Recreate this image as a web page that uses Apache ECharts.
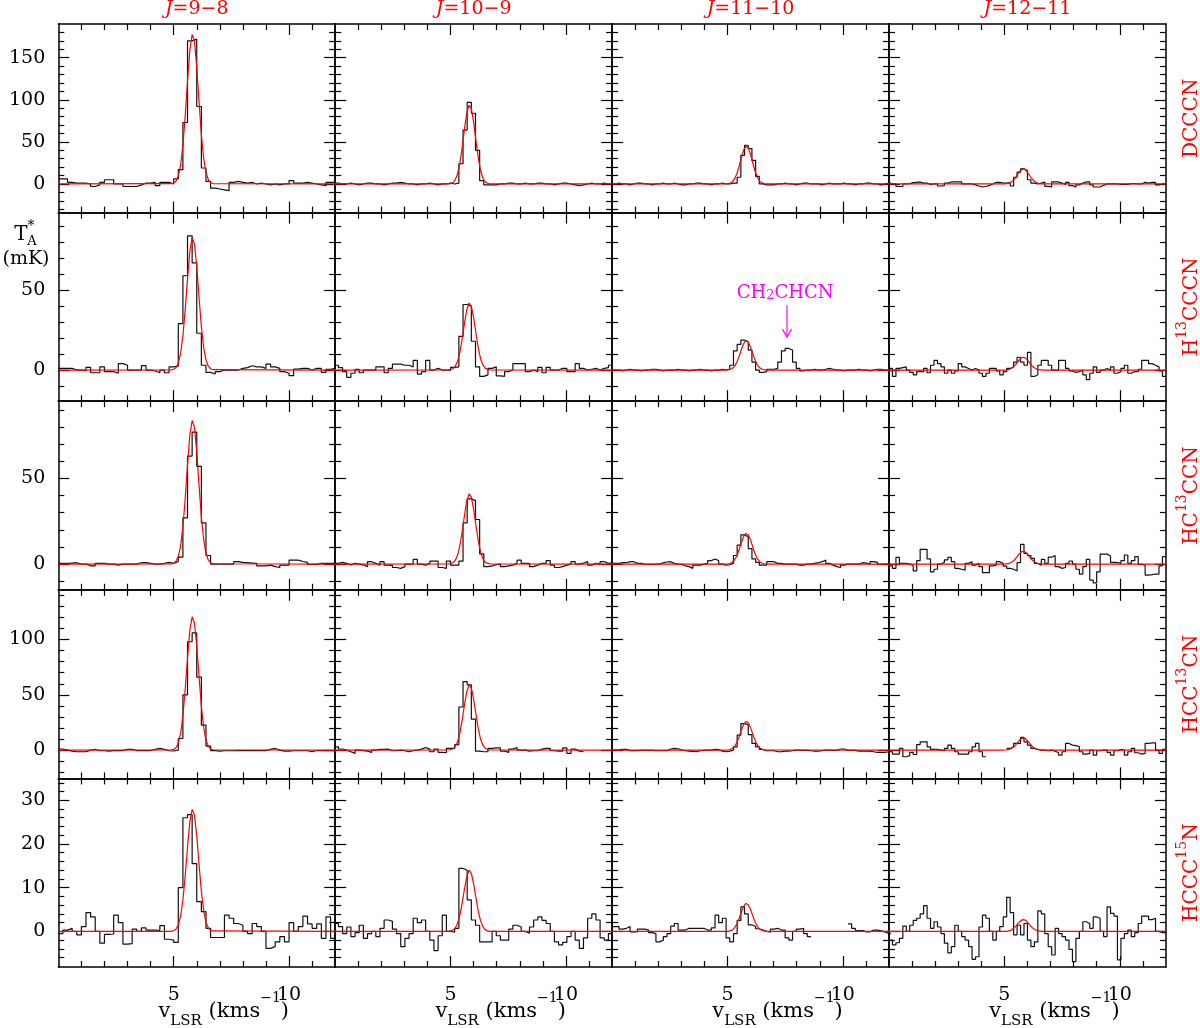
<!DOCTYPE html>
<html><head><meta charset="utf-8">
<script src="https://cdn.jsdelivr.net/npm/echarts@6.0.0/dist/echarts.min.js"></script>
<style>html,body{margin:0;padding:0;background:#fff}#c{width:1200px;height:1028px}</style>
</head><body><div id="c"></div>
<script>
// ---------------- DATA ----------------
const transitions = ['9\u22128', '10\u22129', '11\u221210', '12\u221211'];
const molecules = ['DCCCN', 'H{sup|13}CCCN', 'HC{sup|13}CCN', 'HCC{sup|13}CN', 'HCCC{sup|15}N'];
// channel grid of each column (km/s): first channel left edge and channel width
const chanStart = [0, -0.04, -0.02, 0];
const chanWidth = [0.2, 0.18, 0.16, 0.15];
// axes
const xMajor = [5, 10];
const xMinor = [1, 2, 3, 4, 6, 7, 8, 9, 11];
const yMin = [-34, -19.5, -15, -25.6, -8.15];
const yMax = [190, 98.5, 95, 145, 35];
const yMajor = [[0, 50, 100, 150], [0, 50], [0, 50], [0, 50, 100], [0, 10, 20, 30]];
const yMinor = [
  [-30, -20, -10, 10, 20, 30, 40, 60, 70, 80, 90, 110, 120, 130, 140, 160, 170, 180],
  [-10, 10, 20, 30, 40, 60, 70, 80, 90],
  [-10, 10, 20, 30, 40, 60, 70, 80, 90],
  [-20, -10, 10, 20, 30, 40, 60, 70, 80, 90, 110, 120, 130, 140],
  [-6, -4, -2, 2, 4, 6, 8, 12, 14, 16, 18, 22, 24, 26, 28, 32, 34]
];

// observed spectra (mK), one value per channel
const s_DCCCN_98 = [6,6,2,1,1,1,0,-3,-1,2, 5,5,0,0,-3,-3,-3,-1,1,1, 2,-2,2,2,0,6,17,73,170,172, 92,19,3,-5,-6,-7,-8,2,3,2, 1,2,0,1,0,-1,0,-1,0,0, 4,1,1,2,1,0,-1,-2,2,2];
const s_DCCCN_109 = [1,0,0,1,0,-1,0,1,1,0, 0,-1,0,1,1,2,1,0,0,-1, 0,0,1,0,-1,0,0,1,0,1, 24,64,97,84,40,4, -1,-1,-1,0,0,1,1,0,0,1, 0,0,1,1,0,0,-1,0,1,1, 0,-1,-2,-1,0,1,0,0,1,0, 1];
const s_DCCCN_1110 = [0,1,0,0,-1,0,1,1,0,0, -1,0,0,1,0,0,1,0,-1,-1, 0,0,1,1,0,0,-1,0,0,1, 0,0,1, 1,8,34,46,42,28,9,0, -1,-1,-1,0,0,1,0,0,-1,0, 1,1,0,0,0,-1,0,1,0,0, 0,1,0,0,-1,0,0,1,1,0, 0,-1,0,1,1];
const s_DCCCN_1211 = [0,0,-3,-3,0,0.5,1.6,2,2.4,1, 1,-0.5,0,0,-2.4,-2,1,2.4,2.4,2.4, 2.4,0,0,0,-1,-2.4,-3.6,-3,-1.6,0, 2,2,1,1,1.6,-2.4,8,14,18,16, 5,1,0,1,2.4,-2.8,-3.6,2.4,2.4,1, -0.4,2,-2,-3.6,-1,1,2.4,2.4,-1,-3.6, -3.6,-1.6,0,0,0,0,-0.4,-0.4,-0.4,0.5, 0.5,0,0,2,1,2,2,-1,0,0];

const s_H13CCCN_98 = [1,1,1,0,0,-0.4,1.7,-1.7,-1.7,2, -1,-1,-2,4,3,0,0,0,2.7,0, -0.6,-1.7,0,-1.7,2,2.5, 29,59,84,67,23,3, -1.5,-2.5,-1,0,0,0,0,1,1.5,2.7, 2,2,1,3.7,2,1,-1,-2,-3.5,0.6, 1,1,0,1,1,-1.5,0.4,1];
const s_H13CCCN_109 = [3,1.5,-1,-4.6,-2,0.4,-1.7,0,0,0, 2,2,-1.7,1,3.7,3.7,3,3,2,6, -2.5,-1,6,0,1,0,0,0,1.7,2, 21,41,40,18, 2,-4,-3,1,2,-3.7,-4,-1,0,4, 4,4,-1,0,-1,1.7,-1.7,1.7,0,0, 1,1,-1,-1,4,1,0,0.5,1,0, 1,1.5,3];
const s_H13CCCN_1110 = [0,0,-0.5,0,0.5,0,0,-0.5,0,0, 0.5,0.5,0,-0.5,0,0,0,0.5,0,0, -0.5,0,0,0.5,0,0,-0.5,0,0,0.5, 0,0.5, 3,12,16,18.7,17.7,12.5,5,0,-1.5,-1, 0.5,0.5,1,5,12,13.5,12.5,5,1,-0.5, 0,0,0.5,0,0,0.5,1,0.5,0,0, -0.5,0,0,0,0.5,0,0,-0.5,0,0.5, 0.5,0,0,-0.5];
const s_H13CCCN_1211 = [1,-4,1,1.5,2,0,-1.5,-3,-1,-1, 1,-1.7,3,6,4,2,-2,0,-2,-0.5, 4,2,1,0,1,0,-2,-4,-2,1, 1,-0.5,-3,-1,1,2,5,8,5,3, 11,-4,-3,3,6,6,3,0,0,6, 6,1,-0.5,-1.5,-1,0,-3,-6,-2,2, -1.5,0,1,0,2,-2,-1,1,3,-2, -1,-1,0.5,6,6,4,3,2,-0.5,-4];

const s_HC13CCN_98 = [0.4,0.4,0.6,0.8,0,0,-1,-1,0.4,0.4, 0,0,-0.6,0,0,0,0,0.8,0.8,0.4, 0,0,0.4,1,0.4,1.5,4,27,63,77, 57,24,5,0,0,0,0,0,1.4,1, 0.8,0.6,0.4,-1,-1,-0.6,-1.5,-2,-0.6,-0.6, 2.3,2.3,1.5,1,-0.2,-0.2,0.4,0.4,0.4,0.4];
const s_HC13CCN_109 = [0.4,1,0.4,-0.5,0.4,0,-0.5,-1.5,1.4,0.4, -0.6,1.4,-0.6,-0.8,-2,-2.5,-1.5,0,0,2.7, 0,-0.6,0.4,1.7,1.7,-2,-2.5,1.7,-0.6,-0.6, 1.7,24,38,37,26,6,-1.5, -1,-0.4,0,-1.5,-1,-0.6,0.4,2.3,0.4,0.4, -1.5,-0.6,0.4,0.4,2,-0.6,-2,-1.5,-0.6,0, 1.4,0,0.6,1.4,-0.6,0.4,-0.2,1.4,0.4,0.8];
const s_HC13CCN_1110 = [0.4,0.4,0.8,0.8,1.4,1.4,0.4,0.4,-0.2,-0.2, -0.2,0,0,0.8,1.2,1.4,0.4,0,-0.2,-1, -1.5,-2.5,-0.6,-0.6,0,0.4,2,3,2,0, -0.6,-0.4,0.4,5,11,17,16,9,3,1, -0.6,-0.6,1.4,1.4,0.4,0.4,0,0,0,0, -0.6,-0.6,0,0,0.4,0.8,1.4,2.3,0.4,-0.6, -1.5,-2,-0.6,0,0,0,0,0.8,0.6,0, 1.4,1,-0.2,0,0,0];
const s_HC13CCN_1211 = [-1,-2.5,3.9,0.4,0.4,0,-1,-4,2,8.6, 8.6,3,-4.5,-3,0,1,2.5,3.9,1.4,-2.5, -3,-3.5,0.4,1.4,-0.6,0.4,-1.5,-5,-5,-1, -0.6,1.4,0.4,-1.2,-2.5,-3,-4,0.8,11.5,6.2, 5,3.3,0.4,-0.6,2.7,0.4,4,5,-1.5,-2.5, -2,0.4,1.8,0,-3,-5.8,-1.5,2.7,-9.3,-11, -4.5,5.8,5.8,4.7,1,0.8,0.4,2,5.3,0.4, 2,4.3,-0.2,-0.6,-6.4,-6.2,-5.8,-5.8,-1,4.3];

const s_HCC13CN_98 = [1,0,-1,-1.5,-1.5,-1.5,0,0.8,-0.6,-0.6, -1,-0.4,-0.4,-0.4,0.6,0.6,-0.4,-0.4,-0.4,-0.4, 0.6,1.5,0.6,-0.6,-0.8,0, 10.5,50,98,106,66,22.6,3.6, -0.4,-1,-0.6,-0.6,-0.6,-0.4,-0.4,-0.4,-0.4,-0.4, -0.4,-0.4,0.6,1.5,0,-1,-1,-0.6,-0.6,-0.6, -0.6,-1.5,-0.4,-0.4,-0.4,-0.4,-0.4];
const s_HCC13CN_109 = [3,1,0,-1.5,-3,0,-0.5,-1,-2,0, 0.6,0.6,0.9,-0.6,-0.6,0,-0.6,-1.5,-0.6,0, 0.9,2.4,0.9,-1.5,0.9,-2,-2.4,1.5,1.5, 5,39,62,59,28,-1, -1.5,-1.5,1.5,2,2,-0.9,-2,0.9,2.4,0, 0,-0.9,-0.6,-0.6,0.9,1.5,1.5,-0.6,-0.9,-0.9, 2,-3,0.9,-0.9,-1.5, null,null,null,null,null,null,null];
const s_HCC13CN_1110 = [0,0,0.6,0.6,-0.4,-0.4,-0.4,-0.2,-0.2,-0.2, -0.2,-0.6,-0.6,-0.6,-0.6,1,1.5,1.2,0,-0.6, -0.9,-1.2,-1.5,-0.6,-0.2,0,0,0.6,0.4,-0.9, -1.5,-0.9,0,3,13.5,24,23,14,6,3, 0.6,-0.6,-0.6,-0.6,-1.5,-1.5,-0.9,-0.9,-0.6,0, 0,-0.2,-0.2,-0.6,-0.9,-0.9,-0.6,0,0,-0.2, -0.2,1,1,-0.2,-0.2,-0.2,-0.9,-0.9,-0.9,-0.9, -1.5,-2,-2,-2,-1.5,0];
const s_HCC13CN_1211 = [-1.5,-3.6,-3.6,1.5,-6,-5,-2,-4,5,7.5, 7.5,3,0.6,0.6,0,-0.6,1.5,4.5,1.5,-1.5, -3.6,-3.6,-3.6,-1.5,3,6,-1.5,-6, null,null,null,null,null,null, 1.5,3,6,6,11.5,7.5,4.5,1.5,0.6,0, 0,-0.6,0,-1,-2.4,-4.5,-1.5,6,4.5,4, 3,-1.5,-3.6,-3,0,-4.5,-0.6,0,0,-2, -4.5,-0.6,0.6,0,-4.5,-1.5,1.5,-2.4,-3.6,-3, 6,6.6,6.6,0,-3,0.6];

const s_HCCC15N_98 = [-0.5,0.3,0.7,0,-0.8,1.1,4.3,3.3,0,-2.7, -0.7,-0.6,3.7,2,-2.9,-2.8,0.5,0,0.8,0.3, 0.3,0.2,1.3,-1.8,-2,-2.5,10,26,26.7,15.5, 6.8,4.5,0.7,-1.4,-1.4,-1.4,3.7,3,1.8,1.4, 0,-0.5,1.8,1.1,0,-3.9,-3.5,-2.4,-1.2,-2.4, 2,0,1.1,3.5,1.7,0.7,1.7,-1.6,3.3,-1.6];
const s_HCCC15N_109 = [1.8,1.1,-0.5,1,-1.2,-0.3,1.4,-1.6,-0.5,0, -1.2,0.7,2.6,2.3,0.5,-0.5,-3.5,-1.6,-0.5,3, 2,2.6,0,-2,-4.4,-1,3.7,0,-0.2,0.7, 14.4,14,7.2,2.6,1.4,-2.4,-2.4,-2.4,0,-1, -2,-2,0.5,1.4,1,0,-0.4,1,2.6,3.3, 2.5,1.8,0,-2.4,-3.1,-2.5,-1.2,0,-2,-3.9, -1.5,3,4,2.6,-1.5,-2,-0.5];
const s_HCCC15N_1110 = [1.1,1.1,0.5,0.7,1.1,-0.1,-0.1,0.5,0.5,0.3, -0.3,-0.5,-2.4,-2,-1.2,-0.5,1.2,1.8,0.3,0.3, 0.7,0.7,0.7,0.7,0.7,0.3,0.3,0.8,3.7,2, 3,-1.5,-2.4,-0.5,2.5,5.6,4,1.5,1.1,0.6, 0.3,0,-0.2,0.5,0.7,0.3,0.3,-1.5,-2,0, 0.5,0.7,-0.5,-1.2,null,null,null,null,null,null, null,null,null,null,1.7,0.7,0.2,0.2,-0.1,-0.1, 0.3,0.3,0.1,-0.1,-0.5,-0.5];
const s_HCCC15N_1211 = [-2,-3.1,-2.6,-1.6,1.2,0,1.4,2.5,3,4, 5.9,3,0.7,2.2,1,-0.5,-2.7,-4.9,-3.5,1.4, 0,-1.2,-2,-3.5,-6.4,-5.8,1,3.7,3,0, -2,0,1.1,3.3,7.8,4.3,-0.8,1.4,-0.8,1.8, -2,-3.5,-2.4,4.7,4,-0.5,-3.5,-5.4,0.7,-0.5, -1.2,-2,-4.1,-6.9,-1.6,0,2.2,1.8,0.7,3.3, 3,0,-1.2,5.6,4.1,3.5,-6.5,-1.6,-0.5,0.3, -1.2,-0.3,1.8,3.5,3.5,2.7,3,0,-0.3,-0.3];

const fitX = [0, 4.9,5.0,5.1,5.2,5.3,5.4,5.5,5.6,5.7,5.8,5.9,6.0,6.1,6.2,6.3,6.4,6.5,6.6,6.7, 12];
const fit_DCCCN_98 = [0, 0.3,1.0,3.3,9.3,22.3,45.7,81.0,122.6,159.3,177.5,169.5,138.7,97.4,58.6,30.3,13.4,5.1,1.7,0.5, 0];
const fit_DCCCN_109 = [0, 0.1,0.5,1.7,4.9,11.8,24.2,42.8,64.8,84.1,93.7,89.5,73.2,51.4,30.9,16.0,7.1,2.7,0.9,0.2, 0];
const fit_DCCCN_1110 = [0, 0.1,0.3,0.8,2.3,5.6,11.6,20.5,31.0,40.3,44.9,42.8,35.1,24.6,14.8,7.7,3.4,1.3,0.4,0.1, 0];
const fit_DCCCN_1211 = [0, 0,0.1,0.3,0.9,2.3,4.6,8.2,12.4,16.1,17.9,17.1,14.0,9.8,5.9,3.1,1.4,0.5,0.2,0, 0];
const fit_H13CCCN_98 = [0, 0.1,0.5,1.5,4.3,10.4,21.3,37.8,57.2,74.3,82.8,79.0,64.7,45.4,27.3,14.1,6.2,2.4,0.8,0.2, 0];
const fit_H13CCCN_109 = [0, 0.1,0.2,0.8,2.2,5.3,10.8,19.1,28.9,37.6,41.9,40.0,32.7,23.0,13.8,7.1,3.2,1.2,0.4,0.1, 0];
const fit_H13CCCN_1110 = [0, 0,0.1,0.3,1.0,2.3,4.8,8.4,12.7,16.6,18.4,17.6,14.4,10.1,6.1,3.1,1.4,0.5,0.2,0, 0];
const fit_H13CCCN_1211 = [0, 0,0,0.1,0.4,1.0,2.1,3.6,5.5,7.2,8.0,7.6,6.2,4.4,2.6,1.4,0.6,0.2,0.1,0, 0];
const fit_HC13CCN_98 = [0, 0.1,0.5,1.6,4.4,10.5,21.6,38.2,57.9,75.2,83.7,80.0,65.4,45.9,27.6,14.3,6.3,2.4,0.8,0.2, 0];
const fit_HC13CCN_109 = [0, 0.1,0.2,0.8,2.1,5.1,10.5,18.7,28.2,36.7,40.9,39.0,31.9,22.4,13.5,7.0,3.1,1.2,0.4,0.1, 0];
const fit_HC13CCN_1110 = [0, 0,0.1,0.3,0.9,2.3,4.6,8.2,12.4,16.1,17.9,17.1,14.0,9.8,5.9,3.1,1.4,0.5,0.2,0, 0];
const fit_HC13CCN_1211 = [0, 0,0,0.1,0.4,0.9,1.9,3.4,5.2,6.7,7.5,7.1,5.8,4.1,2.5,1.3,0.6,0.2,0.1,0, 0];
const fit_HCC13CN_98 = [0, 0.2,0.7,2.2,6.3,15.1,31.1,55.1,83.4,108.3,120.6,115.2,94.3,66.2,39.8,20.6,9.1,3.4,1.1,0.3, 0];
const fit_HCC13CN_109 = [0, 0.1,0.3,1.1,3.1,7.4,15.2,26.8,40.7,52.8,58.8,56.2,46.0,32.3,19.4,10.0,4.4,1.7,0.5,0.2, 0];
const fit_HCC13CN_1110 = [0, 0,0.1,0.5,1.4,3.3,6.7,11.8,17.9,23.3,25.9,24.8,20.3,14.2,8.6,4.4,2.0,0.7,0.2,0.1, 0];
const fit_HCC13CN_1211 = [0, 0,0.1,0.2,0.6,1.4,2.8,5.0,7.6,9.8,11.0,10.5,8.6,6.0,3.6,1.9,0.8,0.3,0.1,0, 0];
const fit_HCCC15N_98 = [0, 0,0.2,0.5,1.5,3.5,7.2,12.7,19.3,25.1,27.9,26.7,21.8,15.3,9.2,4.8,2.1,0.8,0.3,0.1, 0];
const fit_HCCC15N_109 = [0, 0,0.1,0.3,0.7,1.8,3.6,6.4,9.6,12.5,14.0,13.3,10.9,7.7,4.6,2.4,1.1,0.4,0.1,0, 0];
const fit_HCCC15N_1110 = [0, 0,0,0.1,0.3,0.8,1.6,2.9,4.4,5.7,6.4,6.1,5.0,3.5,2.1,1.1,0.5,0.2,0.1,0, 0];
const fit_HCCC15N_1211 = [0, 0,0,0,0.1,0.3,0.7,1.2,1.9,2.4,2.7,2.6,2.1,1.5,0.9,0.5,0.2,0.1,0,0, 0];

// annotation in H13CCCN J=11-10 panel
const annLabel = 'CH{s|2}CHCN';
const annText = [7.5, 48];          // km/s, mK
const annArrow = [7.58, 40.6, 20.6]; // km/s, from mK, to mK

// x-axis title pieces: text, font size, vertical role
const xTitleParts = [['v', 'main'], ['LSR', 'sub'], [' (kms', 'main'], ['\u22121', 'sup'], [')', 'main']];

// ---------------- LAYOUT ----------------
const spectra = [
  [s_DCCCN_98, s_DCCCN_109, s_DCCCN_1110, s_DCCCN_1211],
  [s_H13CCCN_98, s_H13CCCN_109, s_H13CCCN_1110, s_H13CCCN_1211],
  [s_HC13CCN_98, s_HC13CCN_109, s_HC13CCN_1110, s_HC13CCN_1211],
  [s_HCC13CN_98, s_HCC13CN_109, s_HCC13CN_1110, s_HCC13CN_1211],
  [s_HCCC15N_98, s_HCCC15N_109, s_HCCC15N_1110, s_HCCC15N_1211]
];
const fits = [
  [fit_DCCCN_98, fit_DCCCN_109, fit_DCCCN_1110, fit_DCCCN_1211],
  [fit_H13CCCN_98, fit_H13CCCN_109, fit_H13CCCN_1110, fit_H13CCCN_1211],
  [fit_HC13CCN_98, fit_HC13CCN_109, fit_HC13CCN_1110, fit_HC13CCN_1211],
  [fit_HCC13CN_98, fit_HCC13CN_109, fit_HCC13CN_1110, fit_HCC13CN_1211],
  [fit_HCCC15N_98, fit_HCCC15N_109, fit_HCCC15N_1110, fit_HCCC15N_1211]
];
const colLeft = [58.3, 335.2, 612.1, 889.0];
const colW = 276.9;
const rowTop = [24, 212.6, 401.2, 589.8, 778.4];
const rowH = 188.6;
const FONT = 'DejaVu Serif';
const RED = '#ff0000';
const MAG = '#ff00ff';
const titleStyle = { main: { size: 21, y: 1012 }, sub: { size: 15, y: 1021.5 }, sup: { size: 14, y: 998 } };

const mctx = document.createElement('canvas').getContext('2d');
function textWidth(txt, size) { mctx.font = size + 'px "' + FONT + '"'; return mctx.measureText(txt).width; }

function stepData(vals, x0, dv) {
  const d = vals.map((v, k) => [x0 + k * dv, v == null ? null : v]);
  d.push([x0 + vals.length * dv, vals[vals.length - 1]]);
  return d;
}

const grids = [], xAxes = [], yAxes = [], series = [];
for (let r = 0; r < 5; r++) {
  for (let c = 0; c < 4; c++) {
    const gi = r * 4 + c;
    grids.push({ left: colLeft[c], top: rowTop[r], width: colW, height: rowH, show: false, containLabel: false, outerBoundsMode: 'none' });
    const ax = (pos, ticks, len, showLine, labels, margin) => ({
      type: 'value', gridIndex: gi, position: pos,
      axisLine: { show: showLine, onZero: false, lineStyle: { color: '#000', width: 1.5 } },
      axisTick: { show: true, inside: true, length: len, customValues: ticks, lineStyle: { color: '#000', width: 1.2 } },
      axisLabel: labels ? { show: true, customValues: labels, margin: margin, color: '#000', fontFamily: FONT, fontSize: 19 } : { show: false },
      splitLine: { show: false }, minorTick: { show: false }, minorSplitLine: { show: false }
    });
    for (const pos of ['bottom', 'top']) {
      xAxes.push(Object.assign(ax(pos, xMajor, 11, true, (pos === 'bottom' && r === 4) ? xMajor : null, 19), { min: 0, max: 12 }));
      xAxes.push(Object.assign(ax(pos, xMinor, 6, false, null, 0), { min: 0, max: 12 }));
    }
    for (const pos of ['left', 'right']) {
      yAxes.push(Object.assign(ax(pos, yMajor[r], 11, true, (pos === 'left' && c === 0) ? yMajor[r] : null, 13), { min: yMin[r], max: yMax[r] }));
      yAxes.push(Object.assign(ax(pos, yMinor[r], 6, false, null, 0), { min: yMin[r], max: yMax[r] }));
    }
    series.push({
      type: 'line', xAxisIndex: gi * 4, yAxisIndex: gi * 4,
      data: stepData(spectra[r][c], chanStart[c], chanWidth[c]),
      step: 'end', symbol: 'none', showSymbol: false, connectNulls: false, clip: true,
      lineStyle: { color: '#111', width: 1.2 }, silent: true, z: 3
    });
    series.push({
      type: 'line', xAxisIndex: gi * 4, yAxisIndex: gi * 4,
      data: fitX.map((x, i) => [x, fits[r][c][i]]),
      symbol: 'none', showSymbol: false, clip: true,
      lineStyle: { color: RED, width: 1.2 }, silent: true, z: 4
    });
  }
}

// annotation (H13CCCN, J=11-10)
const annGrid = 1 * 4 + 2;
series.push({
  type: 'custom', xAxisIndex: annGrid * 4, yAxisIndex: annGrid * 4, silent: true, z: 5,
  data: [[annArrow[0], annArrow[1], annArrow[2], annText[0], annText[1]]],
  renderItem: function (params, api) {
    const pTop = api.coord([api.value(0), api.value(1)]);
    const pTip = api.coord([api.value(0), api.value(2)]);
    const pTxt = api.coord([api.value(3), api.value(4)]);
    return {
      type: 'group', children: [
        { type: 'line', shape: { x1: pTop[0], y1: pTop[1], x2: pTip[0], y2: pTip[1] }, style: { stroke: MAG, lineWidth: 1.2 } },
        { type: 'polyline', shape: { points: [[pTip[0] - 4.5, pTip[1] - 8], [pTip[0], pTip[1]], [pTip[0] + 4.5, pTip[1] - 8]] }, style: { stroke: MAG, fill: null, lineWidth: 1.2 } },
        { type: 'text', x: pTxt[0], y: pTxt[1], style: {
            text: annLabel, align: 'center', verticalAlign: 'middle',
            textAlign: 'center', textVerticalAlign: 'middle',
            fill: MAG, fontFamily: FONT, fontSize: 18,
            rich: {
              s: { fill: MAG, fontFamily: FONT, fontSize: 13, lineHeight: 13, verticalAlign: 'bottom' }
            }
          } }
      ]
    };
  }
});

// text elements
const graphics = [];
const titleTotal = xTitleParts.reduce((s, p) => s + textWidth(p[0], titleStyle[p[1]].size), 0);
for (let c = 0; c < 4; c++) {
  graphics.push({
    type: 'text', x: colLeft[c] + colW / 2, y: 9, silent: true,
    style: {
      text: '{it|J}{n|=' + transitions[c] + '}', textAlign: 'center', textVerticalAlign: 'middle',
      rich: {
        it: { fill: RED, fontFamily: FONT, fontSize: 19, fontStyle: 'italic' },
        n: { fill: RED, fontFamily: FONT, fontSize: 19 }
      }
    }
  });
  let xc = colLeft[c] + colW / 2 + 27 - titleTotal / 2;
  for (const p of xTitleParts) {
    const st = titleStyle[p[1]];
    graphics.push({
      type: 'text', x: xc, y: st.y, silent: true,
      style: { text: p[0], textAlign: 'left', textVerticalAlign: 'middle', fill: '#000', fontFamily: FONT, fontSize: st.size }
    });
    xc += textWidth(p[0], st.size);
  }
}
for (let r = 0; r < 5; r++) {
  graphics.push({
    type: 'text', x: 1192, y: rowTop[r] + rowH / 2, rotation: Math.PI / 2, silent: true,
    style: {
      text: '{m|' + molecules[r].replace(/\{sup\|(\d+)\}/, '}{sup|$1}{m|') + '}',
      textAlign: 'center', textVerticalAlign: 'middle',
      rich: {
        m: { fill: RED, fontFamily: FONT, fontSize: 20, lineHeight: 34, verticalAlign: 'middle' },
        sup: { fill: RED, fontFamily: FONT, fontSize: 14, lineHeight: 14, verticalAlign: 'top' }
      }
    }
  });
}
// y axis title  T*_A (mK)
graphics.push({ type: 'text', x: 21, y: 235, silent: true, style: { text: 'T', textAlign: 'center', textVerticalAlign: 'middle', fill: '#000', fontFamily: FONT, fontSize: 20 } });
graphics.push({ type: 'text', x: 31, y: 226, silent: true, style: { text: '*', textAlign: 'center', textVerticalAlign: 'middle', fill: '#000', fontFamily: FONT, fontSize: 14 } });
graphics.push({ type: 'text', x: 32, y: 242, silent: true, style: { text: 'A', textAlign: 'center', textVerticalAlign: 'middle', fill: '#000', fontFamily: FONT, fontSize: 13 } });
graphics.push({ type: 'text', x: 26, y: 259, silent: true, style: { text: '(mK)', textAlign: 'center', textVerticalAlign: 'middle', fill: '#000', fontFamily: FONT, fontSize: 19 } });

const chart = echarts.init(document.getElementById('c'), null, { renderer: 'canvas' });
chart.setOption({
  backgroundColor: '#fff',
  animation: false,
  grid: grids, xAxis: xAxes, yAxis: yAxes, series: series,
  graphic: graphics
});
</script>
</body></html>
